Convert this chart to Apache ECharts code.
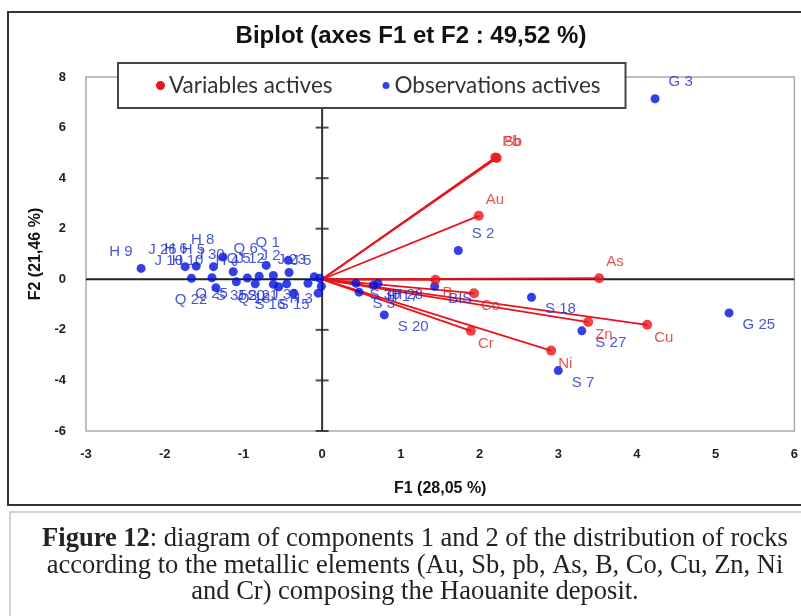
<!DOCTYPE html>
<html>
<head>
<meta charset="utf-8">
<script src="https://cdn.jsdelivr.net/npm/echarts@6/dist/echarts.min.js"></script>
<style>
html,body{margin:0;padding:0;background:#fff;}
#chart{width:801px;height:616px;}
</style>
</head>
<body>
<div id="chart"></div>
<script>
// ---- data ----
const variableNames = ['Au', 'Sb', 'Pb', 'As', 'B', 'Co', 'Cu', 'Zn', 'Ni', 'Cr'];
const variableF1 = [1.99, 2.22, 2.20, 3.52, 1.44, 1.93, 4.13, 3.38, 2.91, 1.89];
const variableF2 = [2.51, 4.80, 4.82, 0.04, -0.02, -0.55, -1.80, -1.69, -2.82, -2.04];

const observationNames = [
  'G 3', 'G 25', 'S 7', 'S 27', 'S 18', 'S 2', 'S 20', 'S 30', 'S 3', 'H 17', 'H 28', 'BIS',
  'H 9', 'J 26', 'H 6', 'H 5', 'H 8', 'J 10', 'H 10', 'J 30', 'H 4', 'Q 6', 'Q 1', 'Q 5',
  'J 12', 'J 2', 'J 23', 'Q 22', 'Q 25', 'S 35', 'J 20', 'S 21', 'S 16', 'S 15', 'Q 18',
  'J 31', 'J 5', 'H 3'
];
const observationF1 = [
  4.23, 5.17, 3.00, 3.30, 2.66, 1.73, 0.79, 0.43, 0.47, 0.65, 0.71, 1.43,
  -2.30, -1.74, -1.60, -1.38, -1.26, -1.66, -1.40, -1.13, -0.95, -0.71, -0.43, -0.80,
  -0.62, -0.42, -0.10, -1.35, -1.09, -0.85, -0.62, -0.45, -0.36, -0.05, -0.55,
  -0.18, -0.03, -0.01
];
const observationF2 = [
  7.14, -1.33, -3.61, -2.04, -0.71, 1.14, -1.41, -0.16, -0.51, -0.24, -0.16, -0.28,
  0.43, 0.50, 0.52, 0.50, 0.88, 0.04, 0.06, 0.30, 0.05, 0.55, 0.75, 0.12,
  0.15, 0.27, 0.10, -0.33, -0.10, -0.18, -0.20, -0.18, -0.55, -0.55, -0.30,
  -0.16, 0.04, -0.28
];

const xTicks = [-3, -2, -1, 0, 1, 2, 3, 4, 5, 6];
const yTicks = [-6, -4, -2, 0, 2, 4, 6, 8];

const titleText = 'Biplot (axes F1 et F2 : 49,52 %)';
const xAxisTitle = 'F1 (28,05 %)';
const yAxisTitle = 'F2 (21,46 %)';
const legendNames = ['Variables actives', 'Observations actives'];
const captionText = '{b|Figure 12}: diagram of components 1 and 2 of the distribution of rocks\n' +
  'according to the metallic elements (Au, Sb, pb, As, B, Co, Cu, Zn, Ni\n' +
  'and Cr) composing the Haouanite deposit.';

// ---- styles ----
const RED = '#e8141c';
const RED_TXT = '#d92a2a';
const BLUE = '#0010e0';
const BLUE_TXT = '#1a2bd0';

const xMin = xTicks[0], xMax = xTicks[xTicks.length - 1];
const yMin = yTicks[0], yMax = yTicks[yTicks.length - 1];

const varData = variableNames.map((n, i) => {
  const x = variableF1[i], y = variableF2[i];
  return {
    name: n, value: [x, y],
    label: {position: x >= 0 ? 'right' : 'left', distance: 2, offset: [0, y >= 0 ? -16 : 13]}
  };
});
const vecData = variableNames.map((n, i) => ({coords: [[0, 0], [variableF1[i], variableF2[i]]]}));
const obsData = observationNames.map((n, i) => {
  const x = observationF1[i], y = observationF2[i];
  return {
    name: n, value: [x, y],
    label: {position: x >= 0 ? 'right' : 'left', distance: x >= 0 ? 9 : 4, offset: [0, y >= 0 ? -17 : 12]}
  };
});

const chart = echarts.init(document.getElementById('chart'), null, {renderer: 'canvas'});
const option = {
  animation: false,
  backgroundColor: '#fff',
  title: [{
    text: titleText, left: 406, top: 19, textAlign: 'center',
    textStyle: {fontFamily: 'Liberation Sans', fontWeight: 'bold', fontSize: 24, color: '#111'}
  }, {
    text: captionText, left: 410, top: 521, textAlign: 'center',
    textStyle: {
      fontFamily: 'Liberation Serif', fontWeight: 'normal', fontSize: 26.5, lineHeight: 26.5, color: '#222',
      rich: {b: {fontFamily: 'Liberation Serif', fontWeight: 'bold', fontSize: 26.5, lineHeight: 26.5, color: '#222'}}
    }
  }],
  legend: {
    data: [{name: legendNames[0], icon: 'circle'}, {name: legendNames[1], icon: 'circle'}],
    left: 118, top: 63,
    padding: [11, 25, 11, 38],
    itemWidth: 7, itemHeight: 7, itemGap: 50,
    backgroundColor: '#fff', borderColor: '#444', borderWidth: 2,
    textStyle: {fontFamily: 'Lato', fontSize: 22.5, color: '#333'},
    selectedMode: false
  },
  grid: {left: 86, right: 5, top: 77, bottom: 185, show: true, borderColor: '#aaa', borderWidth: 1.5},
  xAxis: {
    type: 'value', min: xMin, max: xMax, interval: 1,
    name: xAxisTitle, nameLocation: 'middle', nameGap: 50,
    nameTextStyle: {fontFamily: 'Liberation Sans', fontWeight: 'bold', fontSize: 16, color: '#111'},
    axisLine: {show: false, onZero: false}, axisTick: {show: false}, splitLine: {show: false},
    axisLabel: {fontFamily: 'Liberation Sans', fontWeight: 'bold', fontSize: 13, color: '#222', margin: 17}
  },
  yAxis: {
    type: 'value', min: yMin, max: yMax, interval: 2,
    name: yAxisTitle, nameLocation: 'middle', nameGap: 40, nameRotate: 90,
    nameTextStyle: {fontFamily: 'Liberation Sans', fontWeight: 'bold', fontSize: 16, color: '#111'},
    axisLine: {show: false, onZero: false}, axisTick: {show: false}, splitLine: {show: false},
    axisLabel: {fontFamily: 'Liberation Sans', fontWeight: 'bold', fontSize: 13, color: '#222', margin: 20}
  },
  graphic: [
    {type: 'rect', z: -10, shape: {x: 8, y: 12, width: 800, height: 493}, style: {fill: 'none', stroke: '#333', lineWidth: 2}},
    {type: 'rect', z: -10, shape: {x: 10, y: 512, width: 795, height: 110}, style: {fill: 'none', stroke: '#c4c4c4', lineWidth: 1.5}}
  ],
  series: [
    {
      type: 'line', silent: true, z: 1, symbol: 'none',
      data: [[xMin, 0], [xMax, 0]], lineStyle: {color: '#222', width: 2}
    },
    {
      type: 'line', silent: true, z: 1, symbol: 'none',
      data: [[0, yMin], [0, yMax]], lineStyle: {color: '#333', width: 2}
    },
    {
      type: 'scatter', silent: true, z: 1, symbol: 'rect', symbolSize: [13, 2],
      itemStyle: {color: '#222'},
      data: yTicks.map(t => [0, t])
    },
    {
      name: legendNames[0], type: 'lines', coordinateSystem: 'cartesian2d', z: 2, silent: true,
      lineStyle: {color: RED, width: 1.8, opacity: 1},
      data: vecData
    },
    {
      name: legendNames[1], type: 'scatter', z: 3, symbolSize: 9,
      itemStyle: {color: BLUE},
      label: {show: true, formatter: '{b}', color: BLUE_TXT, fontFamily: 'Liberation Sans', fontSize: 15},
      data: obsData
    },
    {
      name: legendNames[0], type: 'scatter', z: 4, symbolSize: 10,
      itemStyle: {color: RED},
      label: {show: true, formatter: '{b}', color: RED_TXT, fontFamily: 'Liberation Sans', fontSize: 15},
      data: varData
    }
  ]
};
chart.setOption(option);
</script>
</body>
</html>
